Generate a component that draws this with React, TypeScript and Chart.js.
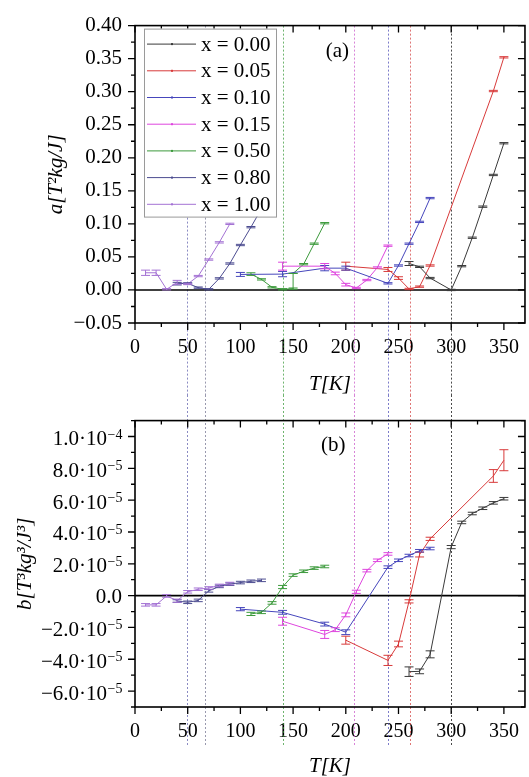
import React, { useEffect, useRef } from 'react';
import { Chart, registerables } from 'chart.js';

Chart.register(...registerables);

const FONT = '"Liberation Serif", "Times New Roman", Times, serif';

// ---------- series meta ----------
const SERIES_LABELS = ['x = 0.00', 'x = 0.05', 'x = 0.10', 'x = 0.15', 'x = 0.50', 'x = 0.80', 'x = 1.00'];
const SERIES_COLORS = ['#3a3a3a', '#d83a3a', '#4646bc', '#de46de', '#3c9a3c', '#4c4c90', '#a472d4'];

// ---------- temperatures (K) ----------
const T_000 = [260, 270, 280, 300, 310, 320, 330, 340, 350];
const T_005 = [200, 240, 250, 260, 270, 280, 340, 350];
const T_010 = [100, 140, 180, 200, 240, 250, 260, 270, 280];
const T_015 = [140, 180, 190, 200, 210, 220, 230, 240];
const T_050_A = [110, 120, 130, 140, 150, 150, 160, 170, 180];
const T_050_B = [110, 120, 130, 140, 150, 160, 170, 180];
const T_080 = [40, 50, 60, 70, 80, 90, 100, 110, 120];
const T_100 = [10, 20, 30, 40, 50, 60, 70, 80, 90];

// ---------- panel (a): a [T^2 kg / J] ----------
const A_000 = [0.040, 0.035, 0.018, 0.000, 0.036, 0.079, 0.126, 0.174, 0.222];
const A_000_ERR = [0.003, 0.001, 0.001, 0.001, 0.001, 0.001, 0.001, 0.001, 0.001];
const A_005 = [0.036, 0.031, 0.018, 0.0015, 0.005, 0.037, 0.301, 0.352];
const A_005_ERR = [0.006, 0.003, 0.002, 0.001, 0.001, 0.001, 0.001, 0.001];
const A_010 = [0.0235, 0.024, 0.033, 0.033, 0.010, 0.037, 0.070, 0.103, 0.139];
const A_010_ERR = [0.003, 0.004, 0.004, 0.003, 0.001, 0.001, 0.001, 0.001, 0.001];
const A_015 = [0.036, 0.036, 0.025, 0.008, 0.003, 0.015, 0.034, 0.067];
const A_015_ERR = [0.006, 0.004, 0.002, 0.002, 0.001, 0.001, 0.001, 0.001];
const A_050 = [0.024, 0.016, 0.004, 0.001, 0.002, 0.025, 0.039, 0.070, 0.101];
const A_050_ERR = [0.002, 0.001, 0.001, 0.001, 0.001, 0.0, 0.001, 0.001, 0.001];
const A_080 = [0.0095, 0.010, 0.0035, 0.001, 0.0175, 0.040, 0.068, 0.095, 0.123];
const A_080_ERR = [0.002, 0.001, 0.001, 0.001, 0.001, 0.001, 0.001, 0.001, 0.001];
const A_100 = [0.026, 0.026, 0.001, 0.0115, 0.009, 0.021, 0.046, 0.072, 0.100];
const A_100_ERR = [0.004, 0.004, 0.001, 0.003, 0.001, 0.001, 0.001, 0.001, 0.001];

// ---------- panel (b): b [T^3 kg^3 / J^3], in units of 1e-5 ----------
const B_000 = [-4.78, -4.76, -3.69, 3.05, 4.60, 5.16, 5.49, 5.83, 6.09];
const B_000_ERR = [0.30, 0.15, 0.22, 0.10, 0.08, 0.08, 0.08, 0.08, 0.08];
const B_005 = [-2.80, -4.07, -3.04, -0.36, 2.58, 3.57, 7.52, 8.51];
const B_005_ERR = [0.25, 0.32, 0.18, 0.10, 0.15, 0.10, 0.40, 0.66];
const B_010 = [-0.85, -1.05, -1.79, -2.30, 1.79, 2.22, 2.52, 2.82, 2.96];
const B_010_ERR = [0.10, 0.12, 0.12, 0.15, 0.08, 0.08, 0.08, 0.08, 0.08];
const B_015 = [-1.61, -2.44, -2.14, -1.21, 0.24, 1.57, 2.22, 2.62];
const B_015_ERR = [0.25, 0.25, 0.12, 0.12, 0.10, 0.08, 0.08, 0.08];
const B_050 = [-1.15, -1.05, -0.46, 0.54, 1.29, 1.53, 1.73, 1.83];
const B_050_ERR = [0.10, 0.08, 0.08, 0.10, 0.08, 0.08, 0.08, 0.08];
const B_080 = [-0.34, -0.42, -0.30, 0.30, 0.58, 0.72, 0.82, 0.90, 0.96];
const B_080_ERR = [0.08, 0.08, 0.08, 0.08, 0.08, 0.08, 0.08, 0.08, 0.08];
const B_100 = [-0.58, -0.58, -0.02, -0.32, 0.24, 0.40, 0.48, 0.64, 0.76];
const B_100_ERR = [0.08, 0.08, 0.08, 0.10, 0.08, 0.08, 0.08, 0.08, 0.08];

// ---------- vertical dotted marker lines ----------
const V_LINE_T = [49, 66, 140, 208, 240, 261, 300];
const V_LINE_COLORS = [
  'rgba(90,90,170,0.7)',
  'rgba(110,110,140,0.7)',
  'rgba(50,150,50,0.7)',
  'rgba(200,80,200,0.7)',
  'rgba(70,70,180,0.7)',
  'rgba(210,60,60,0.7)',
  'rgba(30,30,30,0.8)',
];

// ---------- axes / tick labels ----------
const X_MIN = 0;
const X_MAX = 370;
const X_TICK_VALUES = [0, 50, 100, 150, 200, 250, 300, 350];
const X_TICK_LABELS = ['0', '50', '100', '150', '200', '250', '300', '350'];

const A_Y_MIN = -0.05;
const A_Y_MAX = 0.40;
const A_Y_TICK_VALUES = [-0.05, 0, 0.05, 0.1, 0.15, 0.2, 0.25, 0.3, 0.35, 0.4];
const A_Y_TICK_LABELS = ['\u22120.05', '0.00', '0.05', '0.10', '0.15', '0.20', '0.25', '0.30', '0.35', '0.40'];

const B_Y_MIN = -7;
const B_Y_MAX = 11;
const B_Y_TICK_VALUES = [10, 8, 6, 4, 2, 0, -2, -4, -6];
const B_Y_TICK_MANT = ['1.0', '8.0', '6.0', '4.0', '2.0', '0.0', '\u22122.0', '\u22124.0', '\u22126.0'];
const B_Y_TICK_EXP = ['\u22124', '\u22125', '\u22125', '\u22125', '\u22125', '', '\u22125', '\u22125', '\u22125'];

const PANEL_A_POS = { x: 192, y: 0.361 };
const PANEL_B_POS = { x: 188, y: 9.45 };

function buildDatasets(ts: number[][], ys: number[][], es: number[][]) {
  return SERIES_LABELS.map((label, i) => ({
    label,
    data: ts[i].map((t, j) => ({ x: t, y: ys[i][j] })),
    errors: es[i],
    borderColor: SERIES_COLORS[i],
    backgroundColor: SERIES_COLORS[i],
    borderWidth: 1,
    pointRadius: 0,
    pointHoverRadius: 0,
    showLine: true,
    tension: 0,
  }));
}

function labelFor(values: number[], labels: string[], v: number, tol: number) {
  const idx = values.findIndex((x) => Math.abs(x - v) < tol);
  return idx >= 0 ? labels[idx] : '';
}

function makeDecor(panel: 'a' | 'b', xMinorStep: number, yMinorStep: number, yMajorStep: number) {
  return {
    id: 'decor_' + panel,
    beforeDatasetsDraw(chart: any) {
      const { ctx, chartArea: ca, scales } = chart;
      const xs = scales.x;
      const ys = scales.y;
      ctx.save();
      const top = panel === 'a' ? ca.top : 0;
      const bottom = panel === 'a' ? chart.height : ca.bottom + 38;
      ctx.lineWidth = 1;
      ctx.setLineDash([2, 2]);
      V_LINE_T.forEach((t, i) => {
        const px = Math.round(xs.getPixelForValue(t)) + 0.5;
        ctx.strokeStyle = V_LINE_COLORS[i];
        ctx.beginPath();
        ctx.moveTo(px, top);
        ctx.lineTo(px, bottom);
        ctx.stroke();
      });
      ctx.setLineDash([]);
      const y0 = ys.getPixelForValue(0);
      ctx.strokeStyle = '#000';
      ctx.lineWidth = 1.6;
      ctx.beginPath();
      ctx.moveTo(ca.left, y0);
      ctx.lineTo(ca.right, y0);
      ctx.stroke();
      ctx.restore();
    },
    afterDatasetsDraw(chart: any) {
      const { ctx, chartArea: ca, scales } = chart;
      const xs = scales.x;
      const ys = scales.y;
      ctx.save();
      // error bars
      chart.data.datasets.forEach((ds: any) => {
        ctx.strokeStyle = ds.borderColor;
        ctx.lineWidth = 1;
        ds.data.forEach((p: any, j: number) => {
          const e = ds.errors[j];
          const px = xs.getPixelForValue(p.x);
          const y1 = ys.getPixelForValue(p.y - e);
          const y2 = ys.getPixelForValue(p.y + e);
          ctx.beginPath();
          ctx.moveTo(px, y1);
          ctx.lineTo(px, y2);
          ctx.moveTo(px - 4.5, y1);
          ctx.lineTo(px + 4.5, y1);
          ctx.moveTo(px - 4.5, y2);
          ctx.lineTo(px + 4.5, y2);
          ctx.stroke();
        });
      });
      // frame
      ctx.strokeStyle = '#000';
      ctx.lineWidth = 1.6;
      ctx.strokeRect(ca.left, ca.top, ca.right - ca.left, ca.bottom - ca.top);
      // ticks
      ctx.lineWidth = 1.3;
      const isMult = (v: number, s: number) => Math.abs(v / s - Math.round(v / s)) < 1e-6;
      xs.ticks.forEach((t: any) => {
        const v = t.value;
        if (!isMult(v, xMinorStep)) return;
        const len = isMult(v, xMinorStep * 2) ? 7 : 4;
        const px = xs.getPixelForValue(v);
        ctx.beginPath();
        ctx.moveTo(px, ca.bottom);
        ctx.lineTo(px, ca.bottom + len);
        ctx.moveTo(px, ca.top);
        ctx.lineTo(px, ca.top + len);
        ctx.stroke();
      });
      ys.ticks.forEach((t: any) => {
        const v = t.value;
        if (!isMult(v, yMinorStep)) return;
        const len = isMult(v, yMajorStep) ? 7 : 4;
        const py = ys.getPixelForValue(v);
        ctx.beginPath();
        ctx.moveTo(ca.left, py);
        ctx.lineTo(ca.left - len, py);
        ctx.moveTo(ca.right, py);
        ctx.lineTo(ca.right - len, py);
        ctx.stroke();
      });
      ctx.fillStyle = '#000';
      // custom y labels for panel b (with superscript exponents)
      if (panel === 'b') {
        ctx.textAlign = 'left';
        ctx.textBaseline = 'alphabetic';
        B_Y_TICK_VALUES.forEach((v, i) => {
          const py = ys.getPixelForValue(v);
          const exp = B_Y_TICK_EXP[i];
          const base = exp ? B_Y_TICK_MANT[i] + '\u00b710' : B_Y_TICK_MANT[i];
          ctx.font = `21px ${FONT}`;
          const wb = ctx.measureText(base).width;
          ctx.font = `14px ${FONT}`;
          const we = exp ? ctx.measureText(exp).width : 0;
          const right = ca.left - 13;
          const x0 = right - wb - we;
          ctx.font = `21px ${FONT}`;
          ctx.fillText(base, x0, py + (exp ? 8.5 : 7));
          if (exp) {
            ctx.font = `14px ${FONT}`;
            ctx.fillText(exp, x0 + wb + 0.5, py + 2);
          }
        });
      }
      // panel label
      ctx.font = `21px ${FONT}`;
      ctx.textAlign = 'center';
      ctx.textBaseline = 'middle';
      const pos = panel === 'a' ? PANEL_A_POS : PANEL_B_POS;
      ctx.fillText(panel === 'a' ? '(a)' : '(b)', xs.getPixelForValue(pos.x), ys.getPixelForValue(pos.y));
      // legend (panel a only)
      if (panel === 'a') {
        const bx = ca.left + 9;
        const by = ca.top + 3;
        const bw = 132;
        const bh = 188;
        ctx.fillStyle = '#fff';
        ctx.fillRect(bx, by, bw, bh);
        ctx.strokeStyle = '#9a9a9a';
        ctx.lineWidth = 1;
        ctx.strokeRect(bx + 0.5, by + 0.5, bw, bh);
        chart.data.datasets.forEach((ds: any, i: number) => {
          const ry = by + 15.5 + i * 26.7;
          ctx.strokeStyle = ds.borderColor;
          ctx.lineWidth = 1;
          ctx.beginPath();
          ctx.moveTo(bx + 3, ry);
          ctx.lineTo(bx + 52, ry);
          ctx.stroke();
          ctx.fillStyle = ds.borderColor;
          ctx.fillRect(bx + 27, ry - 1, 2, 2);
          ctx.fillStyle = '#000';
          ctx.font = `21px ${FONT}`;
          ctx.textAlign = 'left';
          ctx.textBaseline = 'middle';
          ctx.fillText(ds.label, bx + 57, ry + 1);
        });
      }
      ctx.restore();
    },
  };
}

function xScale(height: number) {
  return {
    type: 'linear',
    position: 'bottom',
    min: X_MIN,
    max: X_MAX,
    grid: { display: false, drawTicks: false },
    border: { display: false },
    ticks: {
      stepSize: 25,
      includeBounds: false,
      autoSkip: false,
      maxRotation: 0,
      padding: 13,
      color: '#000',
      font: { family: FONT, size: 20 },
      callback: (v: any) => labelFor(X_TICK_VALUES, X_TICK_LABELS, Number(v), 1e-6),
    },
    title: {
      display: true,
      text: 'T[K]',
      color: '#000',
      font: { family: FONT, size: 21, style: 'italic', lineHeight: 1 },
      padding: { top: 0, bottom: 0 },
    },
    afterFit: (s: any) => {
      s.height = height;
    },
  };
}

function ChartPanel({ panel, top, height }: { panel: 'a' | 'b'; top: number; height: number }) {
  const ref = useRef<HTMLCanvasElement | null>(null);
  useEffect(() => {
    if (!ref.current) return;
    const isA = panel === 'a';
    const datasets = isA
      ? buildDatasets(
          [T_000, T_005, T_010, T_015, T_050_A, T_080, T_100],
          [A_000, A_005, A_010, A_015, A_050, A_080, A_100],
          [A_000_ERR, A_005_ERR, A_010_ERR, A_015_ERR, A_050_ERR, A_080_ERR, A_100_ERR]
        )
      : buildDatasets(
          [T_000, T_005, T_010, T_015, T_050_B, T_080, T_100],
          [B_000, B_005, B_010, B_015, B_050, B_080, B_100],
          [B_000_ERR, B_005_ERR, B_010_ERR, B_015_ERR, B_050_ERR, B_080_ERR, B_100_ERR]
        );
    const chart = new Chart(ref.current, {
      type: 'scatter',
      data: { datasets: datasets as any },
      options: {
        animation: false,
        responsive: false,
        maintainAspectRatio: false,
        events: [],
        layout: { padding: { top: isA ? 22 : 9, right: 2, left: 0, bottom: 0 } },
        plugins: { legend: { display: false }, tooltip: { enabled: false } },
        scales: {
          x: xScale(isA ? 72 : 70) as any,
          y: {
            type: 'linear',
            min: isA ? A_Y_MIN : B_Y_MIN,
            max: isA ? A_Y_MAX : B_Y_MAX,
            grid: { display: false, drawTicks: false },
            border: { display: false },
            ticks: {
              stepSize: isA ? 0.025 : 1,
              autoSkip: false,
              padding: 13,
              color: '#000',
              font: { family: FONT, size: 21 },
              callback: (v: any) =>
                isA ? labelFor(A_Y_TICK_VALUES, A_Y_TICK_LABELS, Number(v), 1e-6) : '',
            },
            title: {
              display: true,
              text: isA ? 'a[T\u00b2kg/J]' : 'b[T\u00b3kg\u00b3/J\u00b3]',
              color: '#000',
              font: { family: FONT, size: 21, style: 'italic', lineHeight: 1 },
              padding: { top: isA ? 46 : 15, bottom: 0 },
            },
            afterFit: (s: any) => {
              s.width = 135;
            },
          } as any,
        },
      },
      plugins: [makeDecor(panel, 25, isA ? 0.025 : 1, isA ? 0.05 : 2)],
    } as any);
    return () => chart.destroy();
  }, [panel]);
  return (
    <canvas
      ref={ref}
      width={532}
      height={height}
      style={{ position: 'absolute', left: 0, top, width: 532, height, display: 'block' }}
    />
  );
}

export default function App() {
  return (
    <div
      style={{
        position: 'fixed',
        left: 0,
        top: 0,
        width: 529,
        height: 777,
        overflow: 'hidden',
        background: '#fff',
      }}
    >
      <ChartPanel panel="a" top={0} height={395} />
      <ChartPanel panel="b" top={395} height={382} />
    </div>
  );
}
